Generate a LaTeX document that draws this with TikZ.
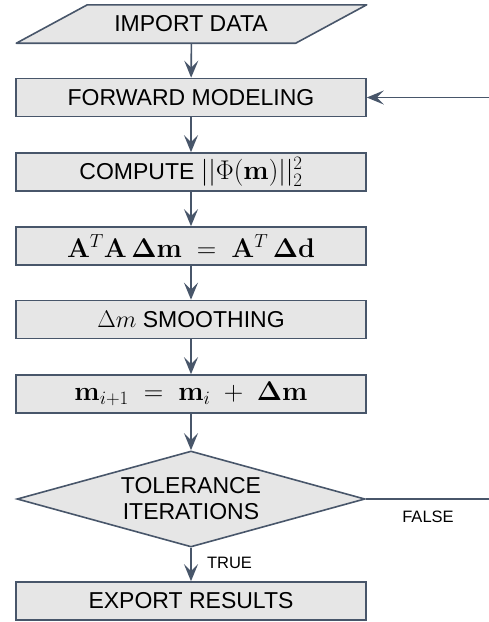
\RequirePackage{fix-cm}
\documentclass[tikz,border=0pt]{standalone}
\usepackage[no-math]{fontspec}
\setmainfont{Liberation Sans}
\usepackage{amsmath,bm}
\usetikzlibrary{shapes.geometric,arrows.meta}
\definecolor{edgec}{RGB}{72,86,106}
\definecolor{boxfill}{RGB}{230,230,230}
\newcommand{\eqsize}[1]{{\fontsize{27}{30}\selectfont$#1$}}
\newcommand{\smsize}[1]{{\fontsize{24}{28}\selectfont$#1$}}
\tikzset{
  procbox/.style={draw=edgec, line width=1.6pt, fill=boxfill, minimum width=350pt, minimum height=38pt, inner sep=0pt, align=center, font=\fontsize{23}{26}\selectfont},
  iobox/.style={minimum width=279pt, minimum height=38pt, inner sep=0pt, font=\fontsize{23}{26}\selectfont},
  iofill/.style={draw=edgec, line width=1.6pt, fill=boxfill, line join=round},
  decbox/.style={draw=edgec, line width=1.6pt, fill=boxfill, diamond, aspect=3.6, minimum width=348pt, minimum height=96pt, inner sep=0pt, align=center, font=\fontsize{23}{26}\selectfont},
  flow/.style={draw=edgec, line width=1.6pt, -{Stealth[length=17pt,width=14pt,inset=7pt]}},
  lbl/.style={font=\fontsize{16.5}{19}\selectfont, inner sep=0pt}
}
\begin{document}
\begin{tikzpicture}[x=1pt,y=-1pt]
\useasboundingbox (0,0) rectangle (489,622);
\node[iobox] (imp) at (191.5,24) {};
\draw[iofill] ([xshift=35.5pt]imp.north west) -- ([xshift=35.5pt]imp.north east) -- ([xshift=-35.5pt]imp.south east) -- ([xshift=-35.5pt]imp.south west) -- cycle;
\node[iobox] (impt) at (191,24) {IMPORT DATA};
\node[procbox] (fwd) at (191,97.5) {FORWARD MODELING};
\node[procbox] (comp) at (191,172) {COMPUTE \eqsize{||\Phi(\mathbf{m})||_2^2}};
\node[procbox] (atb) at (191,246) {\eqsize{\mathbf{A}^T\mathbf{A}\,\boldsymbol{\Delta}\mathbf{m} \;=\; \mathbf{A}^T\,\boldsymbol{\Delta}\mathbf{d}}};
\node[procbox] (smo) at (191,319.5) {\smsize{\Delta m} SMOOTHING};
\node[procbox] (upd) at (191,394) {\eqsize{\mathbf{m}_{i+1} \;=\; \mathbf{m}_i \;+\; \boldsymbol{\Delta}\mathbf{m}}};
\node[decbox] (dec) at (191,499) {TOLERANCE\\ITERATIONS};
\node[procbox] (exp) at (191,601) {EXPORT RESULTS};
\coordinate (c1) at (530,499);
\coordinate (c2) at (530,97.5);
\draw[flow] (imp) -- (fwd);
\draw[flow] (fwd) -- (comp);
\draw[flow] (comp) -- (atb);
\draw[flow] (atb) -- (smo);
\draw[flow] (smo) -- (upd);
\draw[flow] (upd) -- (dec);
\draw[flow] (dec) -- (exp);
\draw[flow] (dec.east) -- (c1) -- (c2) -- (fwd.east);
\node[lbl] (tlab) at (229.5,563) {TRUE};
\node[lbl] (flab) at (428,517) {FALSE};
\end{tikzpicture}
\end{document}
